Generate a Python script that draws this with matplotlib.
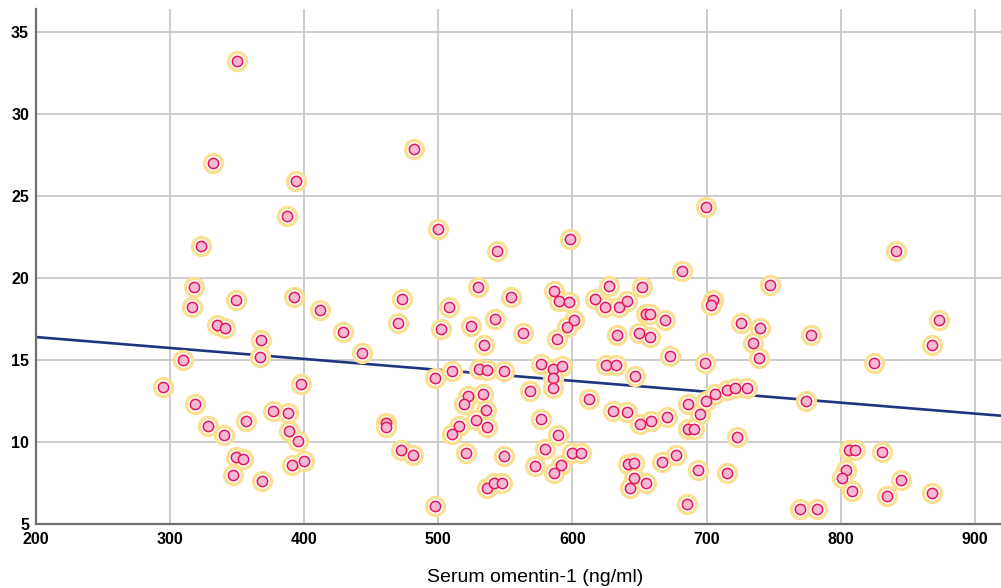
import numpy as np
import matplotlib.pyplot as plt

# Omentin-1 sérique (ng/ml) et variable dépendante, lues point par point
omentin = np.array([
    350, 332, 393.7, 387, 323, 482, 500, 543.6, 598.5, 699.6, 682, 841.5,
    317.6, 316.3, 348.9, 334.7, 340.9, 367.8, 366.8, 309.4, 294.5, 318.8,
    328.5, 340.4, 356.6, 349.4, 354.1, 346.9, 368.5, 376.7, 387.9, 388.9,
    395.1, 390.7, 399.9, 397.6, 392.4, 411.8, 428.7, 442.9, 473.2, 470,
    460.8, 460.8, 472.2, 480.9, 497.5, 497.5, 502,
    529.3, 508.2, 554.2, 524.1, 542.5, 534.3, 563.4, 586.5, 590.2, 597.7,
    601.4, 596.2, 588.3, 627.4, 651.6, 616.5, 624.5, 634.4, 640.6, 654.6,
    658.1, 668.8, 633.5, 649.7, 657.6, 672.5, 704.6, 703.4, 698.6, 510.2,
    530.3, 536.5, 549.2, 576.6, 585.5, 592.5, 585.5, 585.5, 568.1, 625.3,
    632.7, 646.7, 612.4, 522.4, 519.2, 533.3, 535.6, 528.3, 536.5, 515.7,
    510.2, 576.6, 589.5, 579.3, 520.4, 549, 572.3, 591.5, 586.3, 599.5,
    606.6, 536.5, 541.5, 547.3, 630.3, 640.7, 650.6, 658.8, 670.5, 685.9,
    694.9, 699.8, 706.6, 715, 686, 690.9, 641.2, 645.7, 645.7, 642.7,
    654.9, 667, 677, 693.9, 685.2, 715,
    747.1, 725.7, 739.9, 734.9, 739.2, 777.9, 824.9, 873.4, 868.4, 721,
    730, 774, 723, 769.7, 782.2, 806.3, 811, 831.1, 804, 801,
    808.3, 845, 834.4, 868.4,
])
valeur = np.array([
    33.2, 27.0, 25.9, 23.8, 21.95, 27.85, 23.0, 21.65, 22.4, 24.35, 20.45, 21.65,
    19.43, 18.23, 18.64, 17.13, 16.93, 16.22, 15.2, 15.02, 13.33, 12.32,
    10.96, 10.41, 11.3, 9.1, 8.98, 8.0, 7.62, 11.89, 11.79, 10.69,
    10.08, 8.62, 8.82, 13.52, 18.82, 18.03, 16.73, 15.41, 18.72, 17.24,
    11.14, 10.93, 9.49, 9.21, 13.92, 6.12, 16.9,
    19.43, 18.21, 18.82, 17.1, 17.5, 15.91, 16.63, 19.23, 18.6, 18.52,
    17.42, 17.01, 16.3, 19.53, 19.43, 18.72, 18.23, 18.23, 18.62, 17.82,
    17.82, 17.42, 16.55, 16.63, 16.42, 15.22, 18.66, 18.37, 14.82, 14.33,
    14.45, 14.39, 14.35, 14.74, 14.43, 14.65, 13.88, 13.31, 13.13, 14.71,
    14.71, 14.02, 12.64, 12.82, 12.3, 12.93, 11.93, 11.32, 10.91, 10.96,
    10.51, 11.4, 10.43, 9.59, 9.31, 9.13, 8.52, 8.6, 8.11, 9.33,
    9.33, 7.18, 7.52, 7.52, 11.91, 11.81, 11.1, 11.3, 11.52, 12.32,
    11.71, 12.52, 12.91, 13.17, 10.81, 10.81, 8.64, 8.74, 7.79, 7.18,
    7.52, 8.8, 9.21, 8.31, 6.2, 8.11,
    19.55, 17.24, 16.93, 16.04, 15.12, 16.52, 14.8, 17.42, 15.91, 13.31,
    13.31, 12.52, 10.32, 5.91, 5.91, 9.51, 9.51, 9.41, 8.31, 7.8,
    7.01, 7.7, 6.71, 6.91,
])

x_ticks = [200, 300, 400, 500, 600, 700, 800, 900]
y_ticks = [5, 10, 15, 20, 25, 30, 35]
x_lim = [200, 919.6]
y_lim = [5, 36.4]

# Droite de régression linéaire
pente, ordonnee = np.polyfit(omentin, valeur, 1)
x_fit = np.array(x_lim)
y_fit = ordonnee + pente * x_fit

plt.rcParams['font.family'] = ['Liberation Sans', 'DejaVu Sans']

fig = plt.figure(figsize=(10.01, 5.88), dpi=100)
ax = fig.add_axes([36/1001, 64/588, 965/1001, 515/588])

ax.plot(x_fit, y_fit, color='#1f3580', lw=1.9, zorder=2, solid_capstyle='butt')
ax.scatter(omentin, valeur, s=170, facecolor='white', edgecolor='#fbe093', lw=2.3, zorder=3)
ax.scatter(omentin, valeur, s=55, facecolor='#f7b8d4', edgecolor='#e0185a', lw=1.1, zorder=4)

ax.set_xlim(x_lim)
ax.set_ylim(y_lim)
ax.set_xticks(x_ticks)
ax.set_yticks(y_ticks)
ax.grid(True, color='#c4c4c4', lw=1.2)
ax.set_axisbelow(True)

for s in ['top', 'right']:
    ax.spines[s].set_visible(False)
for s in ['left', 'bottom']:
    ax.spines[s].set_color('#707070')
    ax.spines[s].set_linewidth(1.6)

ax.tick_params(length=0, labelsize=11.5, pad=5)
for lab in ax.get_xticklabels() + ax.get_yticklabels():
    lab.set_fontweight('bold')
ax.tick_params(axis='x', pad=6)

ax.set_xlabel("Serum omentin-1 (ng/ml)", fontsize=14)
ax.xaxis.set_label_coords(0.517, -0.103)
ax.xaxis.label.set_va('center')

fig.savefig('out.png', dpi=100)
